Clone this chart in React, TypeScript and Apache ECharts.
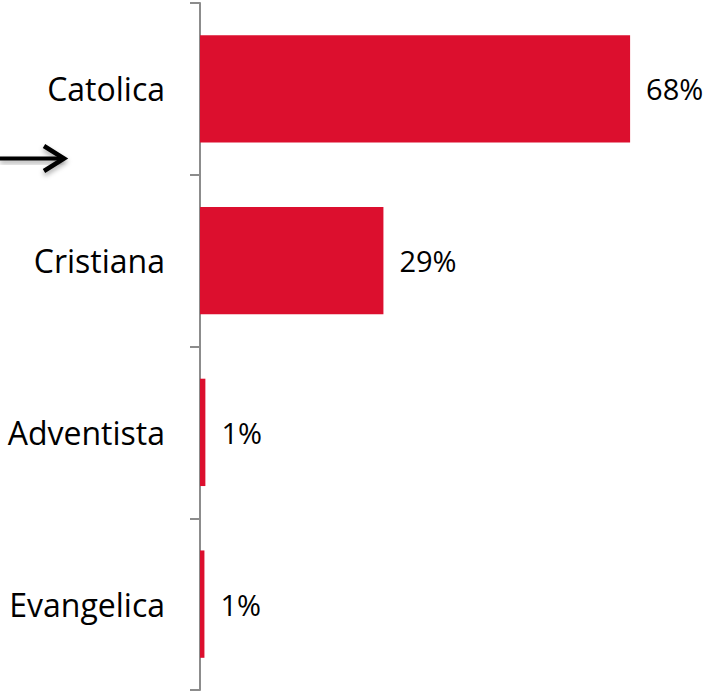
import React, { useEffect, useRef } from "react";
import * as echarts from "echarts";

const categories = ["Catolica", "Cristiana", "Adventista", "Evangelica"];
const values = [68, 29, 0.85, 0.7];

export default function App() {
  const ref = useRef<HTMLDivElement>(null);
  useEffect(() => {
    const chart = echarts.init(ref.current!, undefined, { renderer: "svg" });
    const shadow = { shadowBlur: 5, shadowColor: "rgba(0,0,0,0.35)", shadowOffsetY: 3 };
    chart.setOption({
      animation: false,
      grid: { left: 200, right: 0, top: 3, bottom: 3, containLabel: false },
      xAxis: {
        type: "value",
        min: 0,
        max: 80,
        show: false,
      },
      yAxis: {
        type: "category",
        data: categories,
        inverse: true,
        axisLine: { show: true, lineStyle: { color: "#8c8c8c", width: 2 } },
        axisTick: { show: true, length: 10, lineStyle: { color: "#8c8c8c", width: 2 } },
        axisLabel: {
          margin: 35,
          color: "#000",
          fontFamily: "Open Sans",
          fontSize: 32,
        },
      },
      series: [
        {
          type: "bar",
          data: values,
          barCategoryGap: "37.5%",
          itemStyle: { color: "#DC0F2E" },
          label: {
            show: true,
            position: "right",
            distance: 16,
            color: "#000",
            fontFamily: "Open Sans",
            fontSize: 29,
            formatter: (p: any) => Math.round(p.value) + "%",
          },
        },
      ],
      graphic: [
        {
          type: "rect",
          shape: { x: 0, y: 156.5, width: 61, height: 4 },
          style: { fill: "#000", ...shadow },
        },
        {
          type: "polyline",
          shape: { points: [[44, 146], [64, 158.5], [44, 171]] },
          style: { stroke: "#000", fill: "none", lineWidth: 4.5, lineJoin: "miter", ...shadow },
        },
      ],
    });
    return () => chart.dispose();
  }, []);
  return <div ref={ref} style={{ width: 706, height: 693, position: "absolute", left: 0, top: 0 }} />;
}
